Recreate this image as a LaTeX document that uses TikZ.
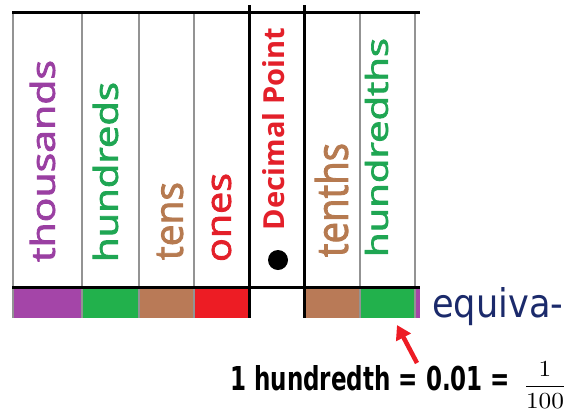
\documentclass[tikz,border=0pt]{standalone}
\usepackage{fontspec}
\setmainfont{Open Sans}
\newfontfamily\comic{DejaVu Sans}
\newfontfamily\colfont[FakeBold=2.2]{Open Sans}
\usetikzlibrary{arrows.meta}
\definecolor{tpurple}{HTML}{9A3FA2}
\definecolor{tgreen}{HTML}{1FA653}
\definecolor{tbrown}{HTML}{B67A50}
\definecolor{tred}{HTML}{E3202A}
\definecolor{bpurple}{HTML}{A445A8}
\definecolor{bgreen}{HTML}{22B14C}
\definecolor{bbrown}{HTML}{B97A57}
\definecolor{bred}{HTML}{ED1C24}
\definecolor{navy}{HTML}{1B2A6B}
\begin{document}
\begin{tikzpicture}[x=1pt,y=-1pt,
  word/.style={inner sep=0pt, rotate=90, font=\colfont},
  grayline/.style={draw=gray!85, line width=2pt},
  blackline/.style={draw=black, line width=3pt}]
\useasboundingbox (0,0) rectangle (570,413);
% colour bar
\fill[bpurple] (13,289) rectangle (82,318);
\fill[bgreen]  (82,289) rectangle (139,318);
\fill[bbrown]  (139,289) rectangle (194,318);
\fill[bred]    (194,289) rectangle (249,318);
\fill[bbrown]  (304,289) rectangle (360,318);
\fill[bgreen]  (360,289) rectangle (415,318);
\fill[bpurple] (415,289) rectangle (420,318);
% grid lines
\foreach \x in {13,82,139,194,360,415} \draw[grayline] (\x,12) -- (\x,318);
\draw[blackline] (12,12) -- (420,12);
\draw[blackline] (12,287) -- (420,287);
\foreach \x in {249,304} \draw[blackline] (\x,5) -- (\x,318);
% column words
\node[word, text=tpurple] (thou) at (42.5,161) {\resizebox{202pt}{25pt}{thousands}};
\node[word, text=tgreen] (hund) at (105.5,172) {\resizebox{180pt}{25pt}{hundreds}};
\node[word, text=tbrown] (tens) at (170,221) {\resizebox{78pt}{26pt}{tens}};
\node[word, text=tred] (ones) at (221.5,217.5) {\resizebox{89pt}{19pt}{ones}};
\node[word, text=tred, font=\bfseries] (dec) at (274,129) {\resizebox{202pt}{22pt}{Decimal Point}};
\node[circle, fill=black, minimum size=20pt, inner sep=0pt] (dot) at (278,260) {};
\node[word, text=tbrown] (tenths) at (331.5,200) {\resizebox{114pt}{33pt}{tenths}};
\node[word, text=tgreen] (hundths) at (376.5,147.5) {\resizebox{219pt}{23pt}{hundredths}};
% texts below
\node[anchor=base west, inner sep=0pt, text=navy] (equ) at (432,317) {\resizebox{131pt}{30pt}{\comic equiva-}};
\node[anchor=base west, inner sep=0pt] (eq) at (230,390) {\resizebox{280pt}{25pt}{\comic\bfseries 1 hundredth = 0.01 =}};
\node[inner sep=0pt] (frac) at (545,385) {\resizebox*{44pt}{46pt}{$\displaystyle\frac{1}{100}$}};
% arrow
\coordinate (as) at (417,363);
\coordinate (ae) at (397,325);
\draw[bred, line width=4.5pt, -{Triangle[length=14pt,width=16pt]}] (as) -- (ae);
\end{tikzpicture}
\end{document}
